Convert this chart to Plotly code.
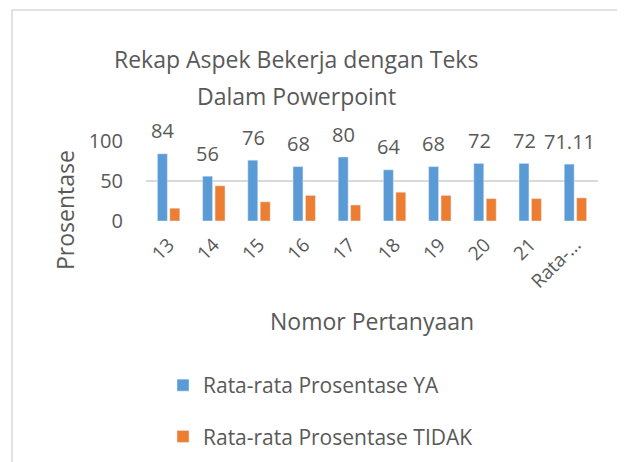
import plotly.graph_objects as go

categories = ["13", "14", "15", "16", "17", "18", "19", "20", "21", "Rata-rata"]
tick_labels = ["13", "14", "15", "16", "17", "18", "19", "20", "21", "Rata-..."]
ya_values = [84, 56, 76, 68, 80, 64, 68, 72, 72, 71.11]
tidak_values = [16, 44, 24, 32, 20, 36, 32, 28, 28, 28.89]
ya_labels = ["84", "56", "76", "68", "80", "64", "68", "72", "72", "71.11"]
title_lines = ["Rekap Aspek Bekerja dengan Teks", "Dalam Powerpoint"]

FONT = "Open Sans"
TXT = "#595959"
OFF = 8  # default page body margin
W, H = 625 - OFF, 462 - OFF
L, R, T, B = 146, 598, 141, 221  # plot area in page pixels


def px_x(p):
    return (p - L) / (R - L)


def px_y(p):
    return (B - p) / (B - T)


fig = go.Figure()
fig.add_trace(go.Bar(x=categories, y=ya_values, name="Rata-rata Prosentase YA",
                     marker_color="#5B9BD5", legendgroup="a"))
fig.add_trace(go.Bar(x=categories, y=tidak_values, name="Rata-rata Prosentase TIDAK",
                     marker_color="#ED7D31", legendgroup="b"))

annotations = []
for i, (v, t) in enumerate(zip(ya_values, ya_labels)):
    annotations.append(dict(x=i, y=v, xref="x", yref="y", text=t, showarrow=False,
                            xshift=-6, yshift=23, xanchor="center", yanchor="middle",
                            font=dict(family=FONT, size=20, color=TXT)))

annotations.append(dict(x=px_x(65), y=px_y(210), xref="paper", yref="paper",
                        text="Prosentase", textangle=-90, showarrow=False,
                        xanchor="center", yanchor="middle",
                        font=dict(family=FONT, size=23, color=TXT)))
annotations.append(dict(x=px_x(372), y=px_y(321), xref="paper", yref="paper",
                        text="Nomor Pertanyaan", showarrow=False,
                        xanchor="center", yanchor="middle",
                        font=dict(family=FONT, size=23, color=TXT)))
for line, yc in zip(title_lines, [59, 96]):
    annotations.append(dict(x=px_x(296), y=px_y(yc), xref="paper", yref="paper",
                            text=line, showarrow=False,
                            xanchor="center", yanchor="middle",
                            font=dict(family=FONT, size=23, color=TXT)))

fig.update_layout(
    width=W, height=H,
    margin=dict(l=L - OFF, r=W - (R - OFF), t=T - OFF, b=H - (B - OFF), pad=0,
                autoexpand=False),
    paper_bgcolor="white", plot_bgcolor="white",
    barmode="group", bargap=0.45, bargroupgap=0.2,
    showlegend=True,
    legend=dict(x=px_x(163), y=px_y(365), xanchor="left", yanchor="top",
                traceorder="grouped", tracegroupgap=21,
                font=dict(family=FONT, size=21, color=TXT)),
    annotations=annotations,
    shapes=[dict(type="rect", xref="paper", yref="paper",
                 x0=px_x(12), x1=px_x(640), y0=px_y(480), y1=px_y(10),
                 line=dict(color="#D9D9D9", width=1.5), layer="below")],
)
fig.update_xaxes(type="category", tickvals=categories, ticktext=tick_labels,
                 tickangle=-45, showgrid=False, showline=False, zeroline=False,
                 automargin=False, ticklabelstandoff=8,
                 tickfont=dict(family=FONT, size=19, color=TXT))
fig.update_yaxes(range=[0, 100], tickvals=[0, 50, 100], showgrid=True,
                 gridcolor="#D9D9D9", gridwidth=1.5, zeroline=False,
                 ticklabelstandoff=22, automargin=False,
                 tickfont=dict(family=FONT, size=20, color=TXT))

fig.write_html("out.html")
